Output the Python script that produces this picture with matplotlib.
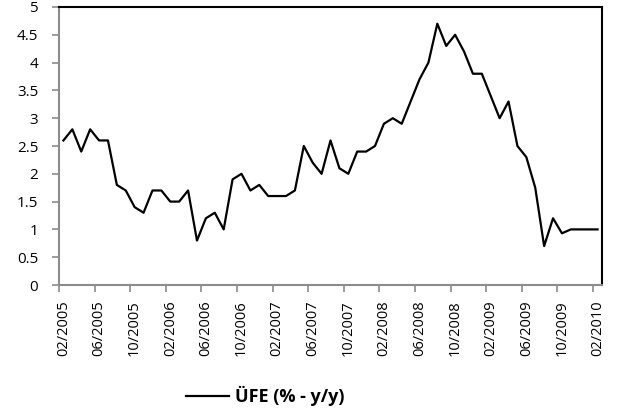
import matplotlib
matplotlib.use("Agg")
import matplotlib.pyplot as plt
from matplotlib.ticker import FixedLocator

plt.rcParams['font.family'] = ['Open Sans', 'DejaVu Sans']

months = ["02/2005", "06/2005", "10/2005", "02/2006", "06/2006", "10/2006",
          "02/2007", "06/2007", "10/2007", "02/2008", "06/2008", "10/2008",
          "02/2009", "06/2009", "10/2009", "02/2010"]
ufe = [2.6, 2.8, 2.4, 2.8, 2.6, 2.6, 1.8, 1.7, 1.4, 1.3,
       1.7, 1.7, 1.5, 1.5, 1.7, 0.8, 1.2, 1.3, 1.0, 1.9,
       2.0, 1.7, 1.8, 1.6, 1.6, 1.6, 1.7, 2.5, 2.2, 2.0,
       2.6, 2.1, 2.0, 2.4, 2.4, 2.5, 2.9, 3.0, 2.9, 3.3,
       3.7, 4.0, 4.7, 4.3, 4.5, 4.2, 3.8, 3.8, 3.4, 3.0,
       3.3, 2.5, 2.3, 1.75, 0.7, 1.2, 0.93, 1.0, 1.0, 1.0, 1.0]
series_name = "ÜFE (% - y/y)"

fig = plt.figure(figsize=(6.24, 4.19), dpi=100)
ax = fig.add_axes([59/624, 1 - 285/419, (602-59)/624, (285-7)/419])

x = list(range(len(ufe)))
ax.plot(x, ufe, color='black', lw=1.6, label=series_name)

ax.set_xlim(-0.5, len(ufe) - 0.5)
ax.set_ylim(0, 5)
ax.set_yticks([i * 0.5 for i in range(11)])
ax.set_yticklabels(["0", "0.5", "1", "1.5", "2", "2.5", "3", "3.5", "4", "4.5", "5"])

label_pos = [4 * i for i in range(len(months))]
ax.set_xticks(label_pos)
ax.set_xticklabels(months, rotation=90)
ax.tick_params(axis='x', which='major', length=0, pad=11, labelsize=10.5)
ax.xaxis.set_minor_locator(FixedLocator([p - 0.5 for p in label_pos]))
ax.tick_params(axis='x', which='minor', length=5, width=1.2, color='#8c8c8c', direction='out')
ax.tick_params(axis='y', length=5, width=1.2, color='#8c8c8c', direction='out', labelsize=11, pad=10)

for side in ['left', 'bottom']:
    ax.spines[side].set_color('#8c8c8c')
    ax.spines[side].set_linewidth(1.5)
for side in ['top', 'right']:
    ax.spines[side].set_color('black')
    ax.spines[side].set_linewidth(1.5)

leg = fig.legend(loc='center', bbox_to_anchor=(265/624, 1 - 396/419), frameon=False,
                 prop={'weight': 'bold', 'size': 13}, handlelength=2.4, handletextpad=0.3)

fig.savefig("out.png", dpi=100)
